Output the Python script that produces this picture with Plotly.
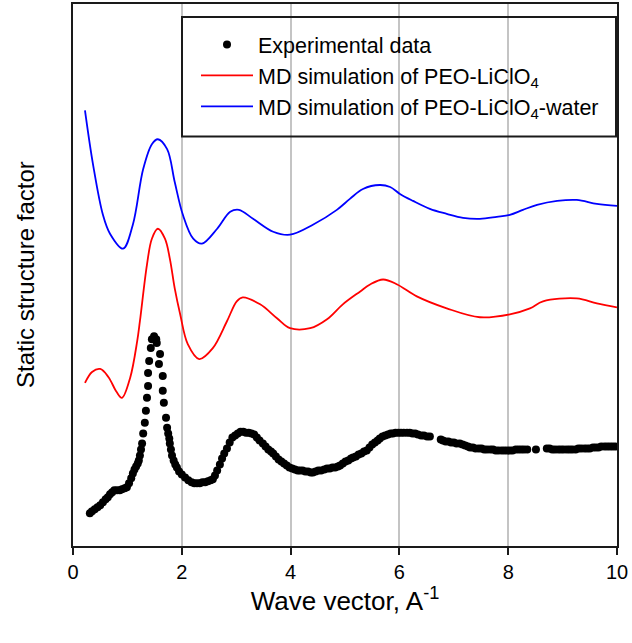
import plotly.graph_objects as go

# Experimental data (arbitrary units)
exp_x = [0.31, 0.35, 0.40, 0.45, 0.50, 0.55, 0.60, 0.64, 0.68, 0.72, 0.76, 0.81, 0.86, 0.90, 0.95,
         0.99, 1.03, 1.07, 1.10, 1.13, 1.16, 1.19, 1.21, 1.23, 1.25, 1.27, 1.29, 1.32, 1.34, 1.36,
         1.38, 1.38, 1.40, 1.43, 1.45, 1.49, 1.53, 1.54, 1.58, 1.60, 1.65, 1.65, 1.67, 1.71, 1.73,
         1.75, 1.77, 1.78, 1.80, 1.82, 1.85, 1.88, 1.91, 1.95, 2.00, 2.06, 2.12, 2.18, 2.23, 2.28,
         2.33, 2.38, 2.43, 2.48, 2.53, 2.57, 2.61, 2.65, 2.70, 2.74, 2.78, 2.83, 2.88, 2.93, 2.98,
         3.03, 3.08, 3.13, 3.18, 3.23, 3.28, 3.33, 3.38, 3.43, 3.49, 3.54, 3.59, 3.64, 3.68, 3.73,
         3.78, 3.83, 3.88, 3.93, 3.98, 4.03, 4.08, 4.13, 4.17, 4.22, 4.27, 4.32, 4.37, 4.41, 4.46,
         4.51, 4.56, 4.62, 4.67, 4.72, 4.77, 4.82, 4.87, 4.91, 4.96, 5.01, 5.06, 5.11, 5.15, 5.20,
         5.25, 5.30, 5.35, 5.40, 5.45, 5.50, 5.55, 5.60, 5.64, 5.69, 5.74, 5.79, 5.84, 5.88, 5.93,
         5.98, 6.03, 6.08, 6.14, 6.19, 6.24, 6.29, 6.34, 6.40, 6.45, 6.51, 6.56, 6.76, 6.80, 6.85,
         6.90, 6.95, 7.00, 7.05, 7.11, 7.16, 7.21, 7.26, 7.30, 7.35, 7.40, 7.46, 7.51, 7.56, 7.61,
         7.67, 7.72, 7.77, 7.82, 7.88, 7.93, 7.98, 8.03, 8.08, 8.14, 8.19, 8.24, 8.29, 8.35, 8.51,
         8.71, 8.76, 8.81, 8.86, 8.92, 8.97, 9.02, 9.08, 9.13, 9.18, 9.24, 9.29, 9.34, 9.40, 9.45,
         9.50, 9.56, 9.61, 9.66, 9.71, 9.77, 9.82, 9.87, 9.92, 9.97]
exp_y = [0.33, 0.35, 0.37, 0.39, 0.41, 0.44, 0.47, 0.49, 0.52, 0.54, 0.56, 0.56, 0.56, 0.57, 0.58,
         0.59, 0.63, 0.68, 0.73, 0.77, 0.80, 0.83, 0.86, 0.91, 0.97, 1.03, 1.13, 1.24, 1.36, 1.49,
         1.61, 1.74, 1.86, 1.99, 2.08, 2.11, 2.08, 2.04, 1.83, 1.93, 1.71, 1.56, 1.44, 1.29, 1.19,
         1.13, 1.08, 1.03, 0.97, 0.91, 0.86, 0.82, 0.79, 0.75, 0.72, 0.69, 0.66, 0.64, 0.63, 0.63,
         0.63, 0.64, 0.64, 0.65, 0.66, 0.67, 0.71, 0.76, 0.82, 0.88, 0.93, 0.98, 1.04, 1.09, 1.11,
         1.13, 1.15, 1.15, 1.14, 1.14, 1.13, 1.12, 1.09, 1.06, 1.03, 1.00, 0.97, 0.95, 0.93, 0.90,
         0.87, 0.85, 0.83, 0.81, 0.79, 0.78, 0.77, 0.76, 0.76, 0.76, 0.75, 0.75, 0.74, 0.74, 0.75,
         0.76, 0.76, 0.77, 0.78, 0.78, 0.79, 0.79, 0.80, 0.81, 0.83, 0.85, 0.86, 0.88, 0.89, 0.90,
         0.92, 0.93, 0.95, 0.96, 0.99, 1.02, 1.04, 1.06, 1.08, 1.10, 1.11, 1.12, 1.13, 1.13, 1.14,
         1.14, 1.14, 1.14, 1.14, 1.14, 1.13, 1.13, 1.12, 1.11, 1.11, 1.10, 1.10, 1.07, 1.06, 1.05,
         1.05, 1.04, 1.04, 1.03, 1.03, 1.02, 1.01, 1.00, 0.99, 0.99, 0.98, 0.98, 0.98, 0.97, 0.97,
         0.97, 0.97, 0.96, 0.96, 0.96, 0.96, 0.96, 0.96, 0.96, 0.97, 0.97, 0.97, 0.97, 0.97, 0.97,
         0.98, 0.98, 0.97, 0.97, 0.97, 0.97, 0.97, 0.97, 0.97, 0.97, 0.97, 0.98, 0.98, 0.98, 0.98,
         0.98, 0.99, 0.99, 0.99, 1.00, 1.00, 1.00, 1.00, 1.00, 1.00]

# MD simulation of PEO-LiClO4 (red)
red_x = [0.22, 0.35, 0.50, 0.65, 0.80, 0.90, 1.05, 1.18, 1.23, 1.36, 1.45, 1.56, 1.69, 1.78,
         1.87, 1.97, 2.11, 2.32, 2.57, 2.83, 3.01, 3.12, 3.44, 3.75, 3.99, 4.36, 4.67, 4.96,
         5.28, 5.46, 5.70, 5.96, 6.32, 6.87, 7.48, 8.03, 8.40, 8.64, 9.26, 9.63, 10.0]
red_y = [1.64, 1.75, 1.78, 1.70, 1.55, 1.49, 1.69, 2.06, 2.26, 2.83, 3.09, 3.19, 3.09, 2.89,
         2.59, 2.33, 2.03, 1.88, 1.99, 2.26, 2.46, 2.50, 2.43, 2.29, 2.19, 2.19, 2.28, 2.43,
         2.56, 2.63, 2.68, 2.63, 2.51, 2.39, 2.30, 2.33, 2.39, 2.46, 2.49, 2.44, 2.40]

# MD simulation of PEO-LiClO4-water (blue)
blue_x = [0.22, 0.37, 0.55, 0.68, 0.92, 1.10, 1.29, 1.45, 1.56, 1.73, 1.87, 2.02, 2.21, 2.37,
          2.65, 2.89, 3.05, 3.31, 3.68, 3.99, 4.41, 4.85, 5.09, 5.33, 5.64, 5.83, 6.01, 6.25,
          6.56, 6.87, 7.17, 7.48, 7.79, 8.03, 8.27, 8.53, 8.90, 9.26, 9.63, 10.0]
blue_y = [4.38, 3.83, 3.33, 3.14, 2.99, 3.23, 3.79, 4.04, 4.09, 3.99, 3.66, 3.33, 3.09, 3.04,
          3.19, 3.36, 3.38, 3.29, 3.16, 3.13, 3.23, 3.38, 3.49, 3.59, 3.63, 3.61, 3.54, 3.47,
          3.39, 3.34, 3.30, 3.29, 3.31, 3.33, 3.38, 3.43, 3.47, 3.48, 3.44, 3.42]

x_ticks = [0, 2, 4, 6, 8, 10]

FONT = "Arial, Liberation Sans, sans-serif"

fig = go.Figure()
fig.add_trace(go.Scatter(x=exp_x, y=exp_y, mode="markers", name="Experimental data",
                         marker=dict(color="black", size=8, line=dict(width=0))))
fig.add_trace(go.Scatter(x=red_x, y=red_y, mode="lines", name="MD simulation of PEO-LiClO<sub>4</sub>",
                         line=dict(color="#ff0000", width=1.8, shape="spline", smoothing=1.0)))
fig.add_trace(go.Scatter(x=blue_x, y=blue_y, mode="lines",
                         name="MD simulation of PEO-LiClO<sub>4</sub>-water",
                         line=dict(color="#0000ff", width=1.8, shape="spline", smoothing=1.0)))

W, H = 632, 643
L, R, T, B = 73, 15, 2, 97
pw, ph = W - L - R, H - T - B

def px_x(p):
    return (p - L) / pw

def px_y(p):
    return (H - B - p) / ph

fig.update_layout(
    width=W, height=H,
    margin=dict(l=L, r=R, t=T, b=B),
    paper_bgcolor="white", plot_bgcolor="white",
    font=dict(family=FONT, color="black"),
    showlegend=True,
    legend=dict(x=px_x(196), y=px_y(22), xanchor="left", yanchor="top",
                bgcolor="rgba(0,0,0,0)", borderwidth=0,
                font=dict(size=21.5, family=FONT), traceorder="normal",
                itemwidth=52),
    xaxis=dict(range=[0, 10], tickvals=x_ticks, ticktext=[str(v) for v in x_ticks],
               showgrid=True, gridcolor="#c4c4c4", gridwidth=1.5,
               showline=True, linecolor="#1a1a1a", linewidth=2, mirror=True,
               ticks="outside", ticklen=7, tickwidth=1.5, tickcolor="#1a1a1a",
               tickfont=dict(size=20, family=FONT), zeroline=False,
               title=dict(text="Wave vector, A<sup>-1</sup>", font=dict(size=26, family=FONT),
                          standoff=8)),
    yaxis=dict(range=[0, 5.45], showticklabels=False, ticks="", showgrid=False,
               showline=True, linecolor="#1a1a1a", linewidth=2, mirror=True, zeroline=False),
    shapes=[dict(type="rect", xref="paper", yref="paper",
                 x0=px_x(182), x1=px_x(616), y0=px_y(135), y1=px_y(15),
                 line=dict(color="#1a1a1a", width=2), fillcolor="rgba(0,0,0,0)", layer="above")],
    annotations=[dict(text="Static structure factor", xref="paper", yref="paper",
                      x=px_x(25), y=0.5, textangle=-90, showarrow=False,
                      font=dict(size=24, family=FONT), xanchor="center", yanchor="middle")],
)

fig.write_html("out.html")
